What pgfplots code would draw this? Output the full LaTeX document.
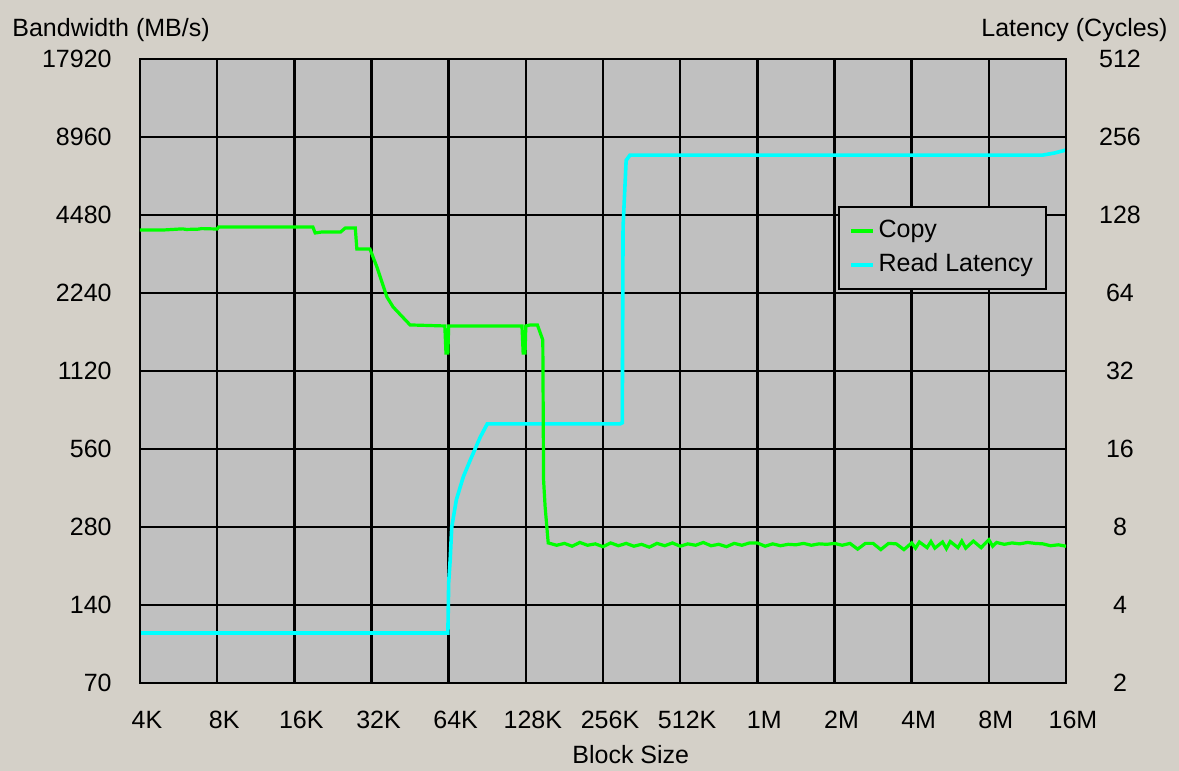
\documentclass[border=0pt]{standalone}
\usepackage{pgfplots}
\pgfplotsset{compat=1.18}
\usepackage{fontspec}
\setmainfont{Liberation Sans}
\definecolor{bg}{HTML}{D4D0C8}
\definecolor{plotbg}{HTML}{C0C0C0}
\definecolor{copyc}{HTML}{00FF00}
\definecolor{latc}{HTML}{00FFFF}

\pgfplotstableread{
t val
0.000 3.12
3.990 3.12
4.000 4.87
4.020 6.00
4.040 8.00
4.100 10.2
4.190 12.5
4.280 14.5
4.410 17.8
4.500 20.0
6.220 20.0
6.250 20.2
6.260 115
6.300 208
6.350 218
11.70 218
11.85 222
12.00 228
}\latencytab

\pgfplotstableread{
t val
0.000 3920
0.300 3920
0.550 3960
0.600 3940
0.750 3950
0.800 3970
1.000 3955
1.020 4027
2.240 4027
2.270 3818
2.360 3853
2.600 3853
2.660 3990
2.790 3990
2.810 3312
2.980 3312
3.070 2822
3.200 2161
3.280 1978
3.500 1686
3.950 1671
3.965 1314
3.990 1314
4.000 1671
4.950 1671
4.965 1314
4.990 1314
5.000 1671
5.060 1686
5.150 1686
5.220 1475
5.230 425
5.250 335
5.290 243
5.40 238
5.50 242
5.60 236
5.70 244
5.80 238
5.90 241
6.00 235
6.10 243
6.20 237
6.30 242
6.40 236
6.50 240
6.60 234
6.70 242
6.80 237
6.90 243
7.00 236
7.10 241
7.20 238
7.30 244
7.40 237
7.50 240
7.60 235
7.70 242
7.80 238
7.90 243
8.00 243
8.10 236
8.20 241
8.30 237
8.40 240
8.50 239
8.60 242
8.70 238
8.80 241
8.90 240
9.00 242
9.10 238
9.20 242
9.30 230
9.40 242
9.50 242
9.60 229
9.70 242
9.80 241
9.90 229
10.00 243
10.05 232
10.10 245
10.20 233
10.25 246
10.30 232
10.40 245
10.45 231
10.50 246
10.60 233
10.65 247
10.70 232
10.80 247
10.90 233
11.00 250
11.05 236
11.10 244
11.20 240
11.30 243
11.40 241
11.50 244
11.60 242
11.70 241
11.80 237
11.90 239
12.00 236
}\copytab

\begin{document}
\fontsize{12.5}{15}\selectfont
\begin{tikzpicture}
\fill[bg] (-70pt,-44pt) rectangle (519.5pt,341.5pt);
% right (latency) axis: background, grid, cyan line
\begin{axis}[
  scale only axis, width=463pt, height=312pt,
  at={(0pt,0pt)}, anchor=south west,
  xmin=0, xmax=12,
  ymode=log, log basis y=2,
  major tick length=0pt,
  axis line style={line width=1.3pt, black},
  axis background/.style={fill=plotbg},
  ymin=2, ymax=512,
  ytick={2,4,8,16,32,64,128,256,512},
  yticklabels={2,4,8,16,32,64,128,256,512},
  yticklabel pos=right,
  yticklabel style={anchor=center, xshift=27pt},
  xtick={0,1,2,3,4,5,6,7,8,9,10,11,12},
  xticklabels={4K,8K,16K,32K,64K,128K,256K,512K,1M,2M,4M,8M,16M},
  xticklabel style={anchor=center, yshift=-18.5pt, xshift=3.5pt},
  xlabel={Block Size},
  xlabel style={at={(axis description cs:0.53,0)}, anchor=center, yshift=-36pt},
  grid=major,
  grid style={black, line width=1.2pt},
]
\addplot[latc, line width=1.8pt] table[x=t, y=val] {\latencytab};
\end{axis}
% left (bandwidth) axis: green line + legend
\begin{axis}[
  scale only axis, width=463pt, height=312pt,
  at={(0pt,0pt)}, anchor=south west,
  xmin=0, xmax=12,
  ymode=log, log basis y=2,
  major tick length=0pt,
  axis line style={line width=1.3pt, black},
  ymin=70, ymax=17920,
  ytick={70,140,280,560,1120,2240,4480,8960,17920},
  yticklabels={70,140,280,560,1120,2240,4480,8960,17920},
  yticklabel pos=left,
  yticklabel style={anchor=east, inner sep=0pt, xshift=-14pt},
  xtick=\empty,
  legend style={at={(0.754,0.764)}, anchor=north west, fill=plotbg, draw=black, line width=1pt,
    inner xsep=5pt, inner ysep=4.5pt, row sep=2pt,
    nodes={inner sep=1.5pt, text height=9pt, text depth=3pt}},
  legend cell align=left,
  legend image code/.code={\draw[#1, line width=2.2pt] (3pt,0pt) -- (14pt,0pt);},
]
\addplot[copyc, line width=1.6pt] table[x=t, y=val] {\copytab};
\addlegendentry{Copy}
\addlegendimage{latc, line width=2.2pt}
\addlegendentry{Read Latency}
\end{axis}
\node[anchor=west, inner sep=0pt] at (-64pt,326.5pt) {Bandwidth (MB/s)};
\node[anchor=east, inner sep=0pt] at (514pt,326.5pt) {Latency (Cycles)};
\pgfresetboundingbox
\path (-70pt,-44pt) rectangle (519.5pt,341.5pt);
\end{tikzpicture}
\end{document}
